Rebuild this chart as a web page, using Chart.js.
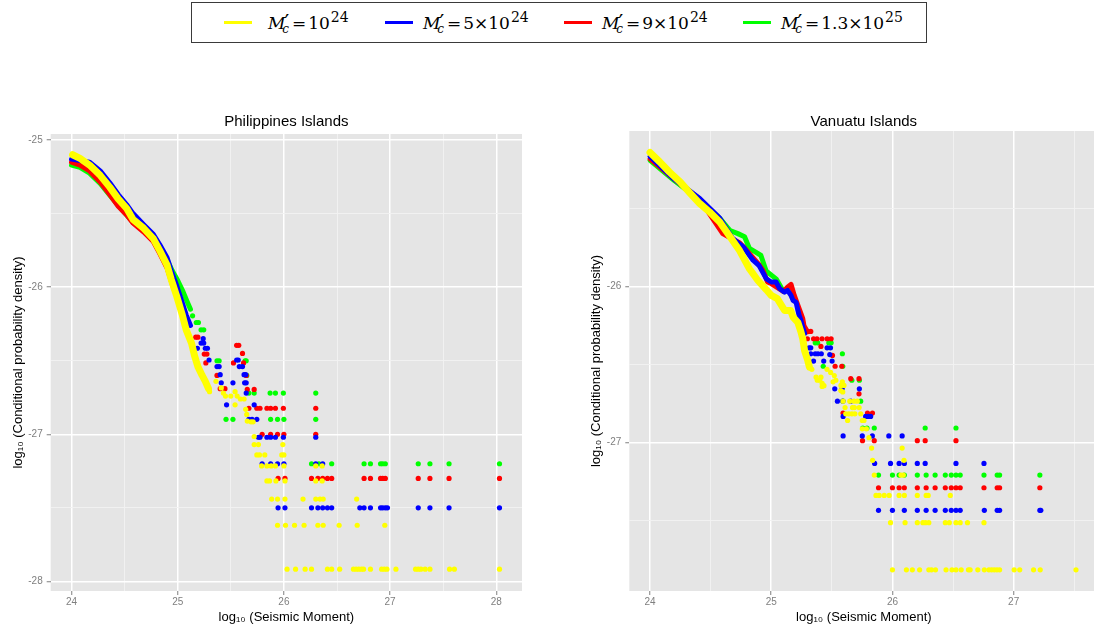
<!DOCTYPE html>
<html>
<head>
<meta charset="utf-8">
<title>Conditional probability density vs seismic moment</title>
<script src="https://cdn.jsdelivr.net/npm/chart.js@4.4.1/dist/chart.umd.min.js"></script>
<style>
  html, body { margin: 0; padding: 0; background: #ffffff; }
  body { width: 1094px; height: 628px; overflow: hidden; position: relative; }
  canvas { position: absolute; }
  #c1 { left: 0; top: 100px; }
  #c2 { left: 575px; top: 100px; }
  #legend { position: absolute; left: 191px; top: 2px; width: 736px; height: 41px; box-sizing: border-box;
            border: 1px solid #3a3a3a; background: #ffffff; }
  .key { position: absolute; top: 18px; width: 28px; height: 3px; }
  .lab { position: absolute; top: 9px; font-family: "DejaVu Serif", "Liberation Serif", serif; font-size: 17px;
         line-height: 20px; white-space: nowrap; color: #000000; }
  .lab .m { font-style: italic; }
  .lab .pr { position: relative; top: 1px; font-family: "DejaVu Sans", sans-serif; font-size: 21px; margin-left: -1px; margin-right: -1px; }
  .lab .sb { position: relative; top: 4px; font-size: 12px; font-style: italic; margin-left: -6px; }
  .lab .eq { margin: 0 2px 0 3px; }
  .lab .sp { position: relative; top: -7px; font-size: 14px; margin-left: 1px; }
</style>
</head>
<body>
<div id="legend">
  <span class="key" style="left:32px;background:#FFFF00"></span>
  <span class="lab" style="left:76px"><span class="m">M</span><span class="pr">′</span><span class="sb">c</span><span class="eq">=</span>10<span class="sp">24</span></span>
  <span class="key" style="left:193px;background:#0000FF"></span>
  <span class="lab" style="left:231px"><span class="m">M</span><span class="pr">′</span><span class="sb">c</span><span class="eq">=</span>5×10<span class="sp">24</span></span>
  <span class="key" style="left:372px;background:#FF0000"></span>
  <span class="lab" style="left:410px"><span class="m">M</span><span class="pr">′</span><span class="sb">c</span><span class="eq">=</span>9×10<span class="sp">24</span></span>
  <span class="key" style="left:551px;background:#00FF00"></span>
  <span class="lab" style="left:589px"><span class="m">M</span><span class="pr">′</span><span class="sb">c</span><span class="eq">=</span>1.3×10<span class="sp">25</span></span>
</div>
<canvas id="c1" width="560" height="528"></canvas>
<canvas id="c2" width="526" height="528"></canvas>
<script>
// ---- axis breaks (integers are labelled, halves are minor grid lines) ----
const PH_X_TICKS = [24, 24.5, 25, 25.5, 26, 26.5, 27, 27.5, 28];
const PH_Y_TICKS = [-28, -27.5, -27, -26.5, -26, -25.5, -25];
const VU_X_TICKS = [24, 24.5, 25, 25.5, 26, 26.5, 27, 27.5];
const VU_Y_TICKS = [-27.5, -27, -26.5, -26, -25.5];

// ---- Philippines Islands: dense runs of points (drawn as thick strokes) ----
const PH_YELLOW_RUN = [[24.01,-25.10],[24.08,-25.125],[24.17,-25.17],[24.27,-25.24],[24.36,-25.32],[24.44,-25.40],[24.52,-25.465],[24.58,-25.54],[24.68,-25.60],[24.77,-25.67],[24.83,-25.75],[24.90,-25.85],[24.94,-25.95],[24.99,-26.06],[25.04,-26.18],[25.08,-26.29],[25.13,-26.38],[25.16,-26.47],[25.19,-26.54],[25.23,-26.60],[25.26,-26.64],[25.29,-26.69]];
const PH_BLUE_RUN = [[24.00,-25.13],[24.08,-25.14],[24.17,-25.15],[24.27,-25.21],[24.36,-25.29],[24.44,-25.37],[24.52,-25.44],[24.58,-25.50],[24.68,-25.575],[24.77,-25.64],[24.83,-25.71],[24.90,-25.80],[24.94,-25.89],[24.99,-25.99],[25.04,-26.10],[25.08,-26.19],[25.12,-26.26]];
const PH_RED_RUN = [[24.00,-25.15],[24.08,-25.17],[24.17,-25.21],[24.27,-25.285],[24.36,-25.37],[24.44,-25.45],[24.52,-25.51],[24.58,-25.565],[24.68,-25.625],[24.77,-25.69],[24.83,-25.77],[24.90,-25.87],[24.94,-25.96],[24.99,-26.06],[25.04,-26.16],[25.08,-26.25]];
const PH_GREEN_RUN = [[24.00,-25.17],[24.08,-25.185],[24.17,-25.225],[24.27,-25.295],[24.36,-25.375],[24.44,-25.445],[24.52,-25.51],[24.58,-25.56],[24.68,-25.615],[24.77,-25.675],[24.83,-25.735],[24.90,-25.815],[24.95,-25.89],[25.00,-25.955],[25.05,-26.03],[25.09,-26.10],[25.12,-26.15]];

// ---- Philippines Islands: isolated points ----
const PH_YELLOW_PTS = [[25.30,-26.71],[25.36,-26.64],[25.41,-26.685],[25.43,-26.72],[25.45,-26.74],[25.50,-26.74],[25.54,-26.71],[25.56,-26.74],[25.59,-26.76],[25.625,-26.76],[25.54,-26.80],[25.64,-26.83],[25.65,-26.865],[25.655,-26.91],[25.69,-26.915],[25.71,-26.915],
  [25.72,-27.015],[25.72,-27.07],[25.76,-27.07],[25.99,-27.07],
  [25.745,-27.14],[25.77,-27.14],[25.82,-27.14],[25.98,-27.14],[26.0,-27.14],
  [25.79,-27.215],[25.84,-27.215],[25.88,-27.215],[25.92,-27.215],[26.0,-27.215],[26.30,-27.215],[26.36,-27.215],
  [25.84,-27.317],[25.865,-27.317],[25.925,-27.317],[26.01,-27.317],[26.30,-27.317],[26.36,-27.317],
  [25.885,-27.44],[25.94,-27.44],[26.01,-27.44],[26.18,-27.44],[26.30,-27.44],[26.34,-27.44],[26.37,-27.44],[26.685,-27.44],
  [25.94,-27.618],[26.015,-27.618],[26.10,-27.618],[26.19,-27.618],[26.32,-27.618],[26.37,-27.618],[26.52,-27.618],[26.69,-27.618],[26.95,-27.618],
  [26.03,-27.917],[26.11,-27.917],[26.20,-27.917],[26.26,-27.917],[26.41,-27.917],[26.45,-27.917],[26.525,-27.917],[26.655,-27.917],[26.68,-27.917],[26.705,-27.917],[26.73,-27.917],[26.75,-27.917],[26.815,-27.917],[26.92,-27.917],[26.945,-27.917],[26.97,-27.917],[27.055,-27.917],[27.24,-27.917],[27.265,-27.917],[27.29,-27.917],[27.33,-27.917],[27.375,-27.917],[27.56,-27.917],[27.605,-27.917],[28.03,-27.917]];
const PH_BLUE_PTS = [[25.125,-26.37],[25.185,-26.415],[25.22,-26.38],[25.245,-26.38],[25.24,-26.35],[25.26,-26.415],[25.28,-26.415],[25.295,-26.495],[25.37,-26.54],[25.39,-26.54],[25.40,-26.595],[25.41,-26.65],[25.46,-26.80],[25.52,-26.65],[25.555,-26.495],[25.57,-26.495],[25.58,-26.54],[25.61,-26.54],[25.625,-26.595],[25.64,-26.595],[25.63,-26.65],[25.645,-26.65],[25.645,-26.72],[25.72,-26.80],[25.67,-26.898],[25.70,-26.898],[25.745,-26.898],
  [25.76,-27.02],[25.775,-27.02],[25.84,-27.02],[25.875,-27.02],[25.92,-27.02],[25.995,-27.02],[26.30,-27.02],
  [25.795,-27.2],[25.875,-27.2],[25.94,-27.2],[26.0,-27.2],[26.30,-27.2],[26.365,-27.2],
  [25.945,-27.5],[26.01,-27.5],[26.26,-27.5],[26.32,-27.5],[26.365,-27.5],[26.41,-27.5],[26.45,-27.5],[26.715,-27.5],[26.755,-27.5],[26.815,-27.5],[26.91,-27.5],[26.93,-27.5],[26.955,-27.5],[26.975,-27.5],[27.265,-27.5],[27.375,-27.5],[27.555,-27.5],[28.03,-27.5]];
const PH_RED_PTS = [[25.17,-26.34],[25.19,-26.34],[25.25,-26.455],[25.275,-26.455],[25.265,-26.515],[25.37,-26.60],[25.40,-26.69],[25.445,-26.69],[25.525,-26.515],[25.555,-26.395],[25.575,-26.395],[25.61,-26.45],[25.62,-26.515],[25.645,-26.60],[25.655,-26.695],[25.72,-26.695],
  [25.67,-26.823],[25.745,-26.823],[25.775,-26.823],[25.84,-26.823],[25.875,-26.823],[25.92,-26.823],[25.995,-26.823],[26.30,-26.823],
  [25.795,-27.0],[25.875,-27.0],[25.94,-27.0],[26.0,-27.0],[26.30,-27.0],
  [25.945,-27.3],[26.01,-27.3],[26.26,-27.3],[26.32,-27.3],[26.365,-27.3],[26.41,-27.3],[26.45,-27.3],[26.755,-27.3],[26.815,-27.3],[26.91,-27.3],[26.93,-27.3],[26.955,-27.3],[27.265,-27.3],[27.375,-27.3],[27.555,-27.3],[28.03,-27.3]];
const PH_GREEN_PTS = [[25.14,-26.195],[25.175,-26.24],[25.195,-26.24],[25.22,-26.29],[25.245,-26.29],[25.37,-26.50],[25.39,-26.50],[25.635,-26.50],[25.645,-26.50],[25.65,-26.60],
  [25.67,-26.72],[25.72,-26.72],[25.87,-26.72],[25.92,-26.72],[25.995,-26.72],[26.30,-26.72],
  [25.455,-26.898],[25.52,-26.898],[25.875,-26.898],[25.94,-26.898],[26.0,-26.898],[26.30,-26.898],
  [26.26,-27.2],[26.33,-27.2],[26.45,-27.2],[26.755,-27.2],[26.815,-27.2],[26.91,-27.2],[26.93,-27.2],[26.955,-27.2],[27.265,-27.2],[27.375,-27.2],[27.555,-27.2],[28.03,-27.2]];

// ---- Vanuatu Islands: dense runs of points ----
const VU_YELLOW_RUN = [[24.0,-25.14],[24.08,-25.20],[24.16,-25.265],[24.25,-25.33],[24.33,-25.40],[24.41,-25.467],[24.49,-25.52],[24.575,-25.585],[24.66,-25.68],[24.74,-25.77],[24.82,-25.885],[24.89,-25.96],[24.96,-26.02],[25.0,-26.056],[25.05,-26.077],[25.11,-26.152],[25.16,-26.152],[25.18,-26.195],[25.22,-26.23],[25.245,-26.29],[25.26,-26.334],[25.275,-26.41],[25.30,-26.47],[25.315,-26.516]];
const VU_BLUE_RUN = [[24.0,-25.165],[24.19,-25.305],[24.41,-25.435],[24.575,-25.56],[24.68,-25.69],[24.77,-25.745],[24.85,-25.83],[24.90,-25.865],[24.96,-25.95],[25.0,-25.97],[25.04,-25.97],[25.07,-26.013],[25.11,-26.035],[25.135,-26.024],[25.163,-26.056],[25.18,-26.088],[25.205,-26.10],[25.22,-26.152],[25.23,-26.184],[25.245,-26.216],[25.26,-26.26],[25.275,-26.30]];
const VU_RED_RUN = [[24.0,-25.18],[24.2,-25.31],[24.41,-25.44],[24.6,-25.66],[24.74,-25.72],[24.80,-25.77],[24.89,-25.85],[24.93,-25.895],[24.97,-25.97],[25.0,-25.98],[25.1,-26.03],[25.14,-26.0],[25.163,-25.985],[25.19,-26.056],[25.205,-26.088],[25.23,-26.14],[25.245,-26.173],[25.26,-26.205],[25.27,-26.25],[25.30,-26.29]];
const VU_GREEN_RUN = [[24.0,-25.19],[24.2,-25.32],[24.41,-25.445],[24.58,-25.565],[24.66,-25.64],[24.725,-25.66],[24.78,-25.68],[24.82,-25.755],[24.875,-25.78],[24.915,-25.80],[24.958,-25.90],[25.04,-25.95],[25.1,-26.03]];

// ---- Vanuatu Islands: isolated points ----
const VU_YELLOW_PTS = [[25.335,-26.53],[25.37,-26.58],[25.40,-26.60],[25.42,-26.64],[25.435,-26.635],[25.41,-26.58],[25.42,-26.62],[25.38,-26.60],[25.46,-26.53],[25.49,-26.55],[25.52,-26.57],[25.51,-26.61],[25.533,-26.60],[25.587,-26.61],[25.575,-26.633],[25.60,-26.633],[25.574,-26.666],[25.59,-26.675],
  [25.593,-26.734],[25.648,-26.734],[25.683,-26.734],[25.71,-26.734],
  [25.609,-26.775],[25.67,-26.775],[25.686,-26.775],[25.725,-26.775],
  [25.615,-26.815],[25.64,-26.815],[25.665,-26.815],[25.69,-26.815],[25.738,-26.815],
  [25.63,-26.858],[25.751,-26.858],[25.765,-26.858],
  [25.751,-26.911],[25.785,-26.911],
  [25.806,-26.968],[25.828,-27.035],[26.08,-27.035],[25.836,-27.113],[26.095,-27.113],
  [25.85,-27.208],[26.07,-27.208],[26.09,-27.208],
  [25.864,-27.338],[25.891,-27.338],[25.932,-27.338],[25.973,-27.338],[26.055,-27.338],[26.098,-27.338],[26.205,-27.338],[26.278,-27.338],[26.295,-27.338],[26.477,-27.338],
  [25.984,-27.513],[26.104,-27.513],[26.205,-27.513],[26.251,-27.513],[26.273,-27.513],[26.30,-27.513],[26.436,-27.513],[26.469,-27.513],[26.524,-27.513],[26.559,-27.513],[26.619,-27.513],[26.755,-27.513],
  [26.0,-27.815],[26.115,-27.815],[26.164,-27.815],[26.224,-27.815],[26.30,-27.815],[26.322,-27.815],[26.355,-27.815],[26.442,-27.815],[26.491,-27.815],[26.524,-27.815],[26.567,-27.815],[26.627,-27.815],[26.641,-27.815],[26.704,-27.815],[26.758,-27.815],[26.796,-27.815],[26.818,-27.815],[26.84,-27.815],[26.862,-27.815],[26.884,-27.815],[27.004,-27.815],[27.05,-27.815],[27.164,-27.815],[27.219,-27.815],[27.514,-27.815]];
const VU_BLUE_PTS = [[25.312,-26.392],[25.326,-26.392],[25.461,-26.392],[25.489,-26.392],
  [25.326,-26.43],[25.363,-26.43],[25.385,-26.43],[25.413,-26.43],[25.483,-26.435],
  [25.349,-26.477],[25.433,-26.477],[25.502,-26.477],
  [25.524,-26.655],[25.585,-26.653],[25.727,-26.655],
  [25.546,-26.734],[25.591,-26.733],[25.656,-26.734],
  [25.593,-26.832],[25.779,-26.832],[25.80,-26.832],[25.82,-26.832],
  [25.593,-26.957],[25.751,-26.957],[25.834,-26.957],[25.97,-26.957],[26.08,-26.957],
  [25.853,-27.133],[25.984,-27.133],[26.055,-27.133],[26.098,-27.133],[26.205,-27.133],[26.27,-27.133],[26.524,-27.133],[26.755,-27.133],
  [25.885,-27.434],[26.0,-27.434],[26.098,-27.434],[26.205,-27.434],[26.278,-27.434],[26.352,-27.434],[26.436,-27.434],[26.485,-27.434],[26.524,-27.434],[26.559,-27.434],[26.758,-27.434],[26.864,-27.434],[26.884,-27.434],[27.216,-27.434],[27.224,-27.434]];
const VU_RED_PTS = [[25.301,-26.287],[25.326,-26.287],
  [25.298,-26.334],[25.349,-26.334],[25.377,-26.334],[25.419,-26.334],[25.461,-26.334],[25.494,-26.334],
  [25.41,-26.383],[25.505,-26.441],[25.527,-26.51],[25.582,-26.51],[25.656,-26.59],[25.724,-26.59],[25.724,-26.687],
  [25.592,-26.81],[25.794,-26.81],[25.835,-26.81],
  [25.753,-26.987],[25.85,-26.987],[26.205,-26.987],[26.27,-26.987],[26.524,-26.987],
  [25.885,-27.289],[26.0,-27.289],[26.055,-27.289],[26.098,-27.289],[26.205,-27.289],[26.278,-27.289],[26.352,-27.289],[26.436,-27.289],[26.485,-27.289],[26.524,-27.289],[26.559,-27.289],[26.755,-27.289],[26.864,-27.289],[26.884,-27.289],[27.216,-27.289]];
const VU_GREEN_PTS = [[25.363,-26.36],[25.383,-26.36],[25.475,-26.36],[25.494,-26.36],
  [25.587,-26.43],[25.429,-26.51],[25.59,-26.51],
  [25.665,-26.60],[25.727,-26.60],[25.738,-26.734],[25.591,-26.733],
  [25.755,-26.906],[25.79,-26.906],[25.85,-26.906],[26.27,-26.906],[26.524,-26.906],
  [25.885,-27.208],[26.0,-27.208],[26.055,-27.208],[26.098,-27.208],[26.205,-27.208],[26.278,-27.208],[26.352,-27.208],[26.436,-27.208],[26.485,-27.208],[26.524,-27.208],[26.559,-27.208],[26.755,-27.208],[26.864,-27.208],[26.884,-27.208],[27.216,-27.208]];

// ---- styling ----
Chart.defaults.font.family = '"Liberation Sans", Arial, Helvetica, sans-serif';
const SERIES_COLORS = ['#FFFF00', '#0000FF', '#FF0000', '#00FF00'];   // 1e24, 5e24, 9e24, 1.3e25
const RUN_WIDTHS = [7, 5, 5, 5];
const POINT_RADIUS = 2.6;

const toXY = arr => arr.map(([x, y]) => ({ x, y }));
const isMajor = v => Math.abs(v - Math.round(v)) < 1e-9;

// one stroke + one point cloud per series; the first series is drawn on top
function buildDatasets(runs, points) {
  const out = [];
  runs.forEach((run, i) => {
    out.push({
      data: toXY(run), showLine: true, tension: 0,
      borderColor: SERIES_COLORS[i], backgroundColor: SERIES_COLORS[i],
      borderWidth: RUN_WIDTHS[i], borderCapStyle: 'round', borderJoinStyle: 'round',
      pointRadius: 0, pointHoverRadius: 0, order: i
    });
    out.push({
      data: toXY(points[i]), showLine: false,
      pointRadius: POINT_RADIUS, pointHoverRadius: POINT_RADIUS, pointBorderWidth: 0,
      pointBackgroundColor: SERIES_COLORS[i], pointBorderColor: SERIES_COLORS[i], order: i
    });
  });
  return out;
}

function axis({ min, max, ticks, title, size, horizontal, titlePad, labelPad }) {
  const major = c => c.tick && isMajor(c.tick.value);
  return {
    type: 'linear', min, max,
    afterBuildTicks: s => { s.ticks = ticks.map(v => ({ value: v })); },
    afterFit: s => { if (horizontal) s.height = size; else s.width = size; },
    grid: {
      color: c => major(c) ? '#FFFFFF' : '#F2F2F2',
      lineWidth: c => major(c) ? 1.5 : 0.9,
      tickColor: c => major(c) ? '#7F7F7F' : 'rgba(0,0,0,0)',
      tickWidth: 1, tickLength: 4, drawTicks: true
    },
    border: { display: false },
    ticks: {
      autoSkip: false, maxRotation: 0, padding: labelPad, color: '#7F7F7F', font: { size: 10 },
      callback: v => isMajor(v) ? String(Math.round(v)) : ''
    },
    title: { display: true, text: title, color: '#000000', font: { size: 13 }, padding: titlePad }
  };
}

// grey panel behind the grid
const panelBackground = {
  id: 'panelBackground',
  beforeDraw(chart) {
    const { ctx, chartArea: a } = chart;
    ctx.save();
    ctx.fillStyle = '#E5E5E5';
    ctx.fillRect(a.left, a.top, a.right - a.left, a.bottom - a.top);
    ctx.restore();
  }
};

// panel heading centred over the plotting area
const panelTitle = {
  id: 'panelTitle',
  afterDraw(chart, args, opts) {
    const { ctx, chartArea: a } = chart;
    ctx.save();
    ctx.font = '15px "Liberation Sans", Arial, sans-serif';
    ctx.fillStyle = '#000000';
    ctx.textAlign = 'center';
    ctx.textBaseline = 'middle';
    ctx.fillText(opts.text, (a.left + a.right) / 2, a.top - opts.gap);
    ctx.restore();
  }
};

const X_TITLE = 'log₁₀ (Seismic Moment)';
const Y_TITLE = 'log₁₀ (Conditional probability density)';

function makePanel(canvasId, cfg) {
  return new Chart(document.getElementById(canvasId), {
    type: 'scatter',
    data: { datasets: buildDatasets(cfg.runs, cfg.points) },
    options: {
      responsive: false, animation: false, events: [],
      layout: { padding: cfg.padding },
      plugins: { legend: { display: false }, tooltip: { enabled: false }, panelTitle: { text: cfg.title, gap: cfg.titleGap } },
      scales: {
        x: axis({ min: cfg.xMin, max: cfg.xMax, ticks: cfg.xTicks, title: X_TITLE, size: 37, horizontal: true,
                  titlePad: { top: 0, bottom: 3 }, labelPad: 1 }),
        y: axis({ min: cfg.yMin, max: cfg.yMax, ticks: cfg.yTicks, title: Y_TITLE, size: cfg.yAxisWidth, horizontal: false,
                  titlePad: { top: cfg.yTitleOffset, bottom: 0 }, labelPad: 4 })
      }
    },
    plugins: [panelBackground, panelTitle]
  });
}

makePanel('c1', {
  title: 'Philippines Islands', titleGap: 12,
  runs: [PH_YELLOW_RUN, PH_BLUE_RUN, PH_RED_RUN, PH_GREEN_RUN],
  points: [PH_YELLOW_PTS, PH_BLUE_PTS, PH_RED_PTS, PH_GREEN_PTS],
  xMin: 23.804, xMax: 28.242, yMin: -28.065, yMax: -24.959,
  xTicks: PH_X_TICKS, yTicks: PH_Y_TICKS,
  padding: { top: 34, right: 38, bottom: 0, left: 0 }, yAxisWidth: 50.7, yTitleOffset: 10.2
});

makePanel('c2', {
  title: 'Vanuatu Islands', titleGap: 9,
  runs: [VU_YELLOW_RUN, VU_BLUE_RUN, VU_RED_RUN, VU_GREEN_RUN],
  points: [VU_YELLOW_PTS, VU_BLUE_PTS, VU_RED_PTS, VU_GREEN_PTS],
  xMin: 23.829, xMax: 27.699, yMin: -27.951, yMax: -25.002,
  xTicks: VU_X_TICKS, yTicks: VU_Y_TICKS,
  padding: { top: 31, right: 0, bottom: 0, left: 0 }, yAxisWidth: 54.3, yTitleOffset: 13.2
});
</script>
</body>
</html>
